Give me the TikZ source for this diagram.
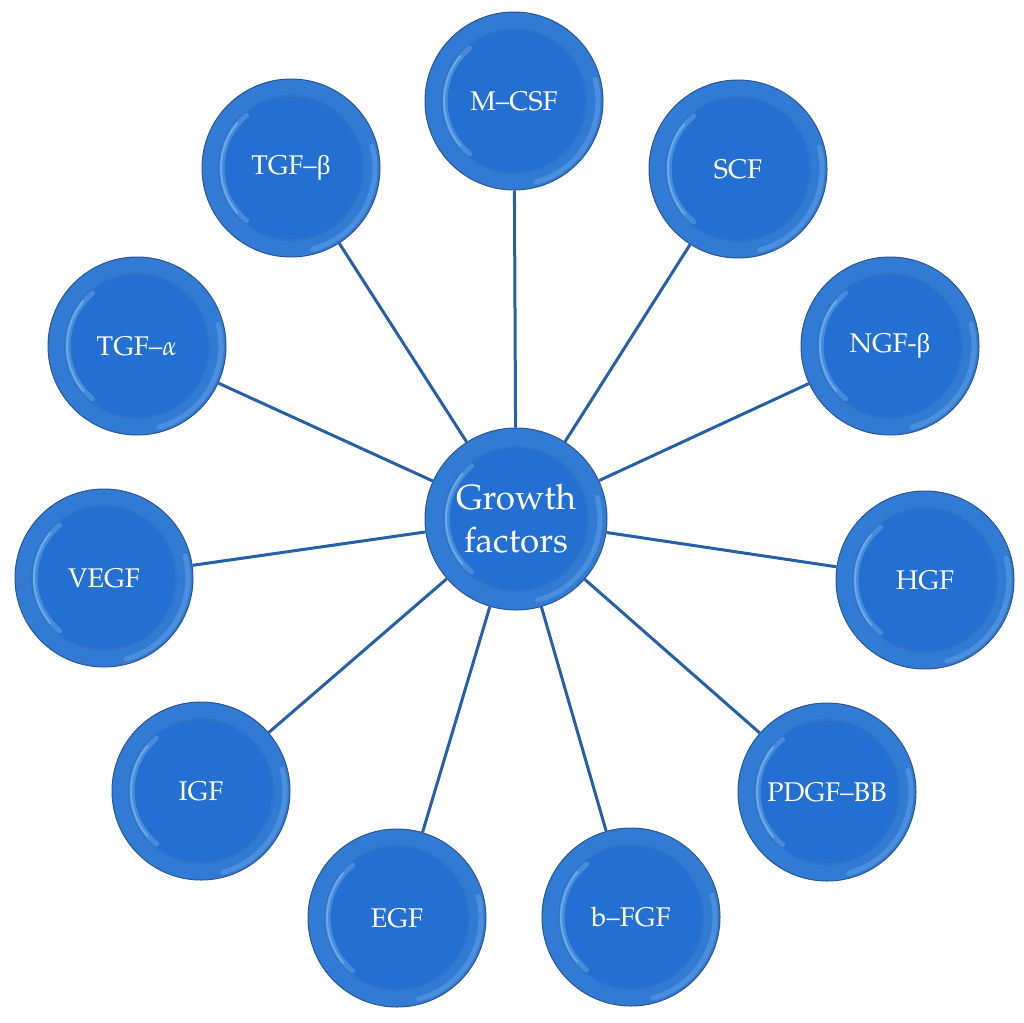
\documentclass[tikz,border=0pt]{standalone}
\usepackage{fontspec}
\usepackage[T1]{fontenc}
\usepackage{mathpazo}
\usepackage{tikz}
\newfontfamily\greekfont{Liberation Serif}

\definecolor{ballblue}{RGB}{50,123,212}
\definecolor{ballinner}{RGB}{36,112,210}
\definecolor{balledge}{RGB}{42,86,146}
\definecolor{ballshine}{RGB}{150,205,245}
\definecolor{spoke}{RGB}{38,96,166}

\tikzset{
  factor/.style={circle, draw=balledge, line width=1pt, fill=ballblue,
    minimum size=178pt, inner sep=0pt, text=white, align=center,
    font=\fontsize{27}{31}\selectfont,
    path picture={
      \fill[ballinner] (path picture bounding box.center) circle (71pt);
      \draw[balledge, opacity=.18, line width=2pt] (path picture bounding box.center) circle (72pt);
      \draw[ballshine, line width=5pt, opacity=.3, line cap=round]
        ([shift={(130:69pt)}]path picture bounding box.center) arc (130:230:69pt);
      \draw[ballshine, line width=2pt, opacity=.45, line cap=round]
        ([shift={(140:70pt)}]path picture bounding box.center) arc (140:220:70pt);
      \draw[ballshine, line width=5pt, opacity=.25, line cap=round]
        ([shift={(-75:84pt)}]path picture bounding box.center) arc (-75:15:84pt);
    }},
  hub/.style={factor, minimum size=182pt, font=\fontsize{35}{43}\selectfont},
  spokeline/.style={spoke, line width=3pt}
}

\begin{document}
\begin{tikzpicture}[x=1pt, y=-1pt]
\useasboundingbox (0,0) rectangle (1024,1022);

% hub and factors
\node[hub] (gf) at (516,519) {Growth\\factors};
\node[factor] (mcsf) at (514,101) {M--CSF};
\node[factor] (scf)  at (738,169) {SCF};
\node[factor] (ngfb) at (890,346) {NGF-{\greekfont β}};
\node[factor] (hgf)  at (925,580) {HGF};
\node[factor] (pdgf) at (827,792) {PDGF--BB};
\node[factor] (bfgf) at (631,917) {b--FGF};
\node[factor] (egf)  at (397,918) {EGF};
\node[factor] (igf)  at (201,791) {IGF};
\node[factor] (vegf) at (104,578) {VEGF};
\node[factor] (tgfa) at (137,346) {TGF--$\alpha$};
\node[factor] (tgfb) at (291,168) {TGF--{\greekfont β}};

\foreach \f in {mcsf,scf,ngfb,hgf,pdgf,bfgf,egf,igf,vegf,tgfa,tgfb}
   \draw[spokeline] (gf) -- (\f);
\end{tikzpicture}
\end{document}
